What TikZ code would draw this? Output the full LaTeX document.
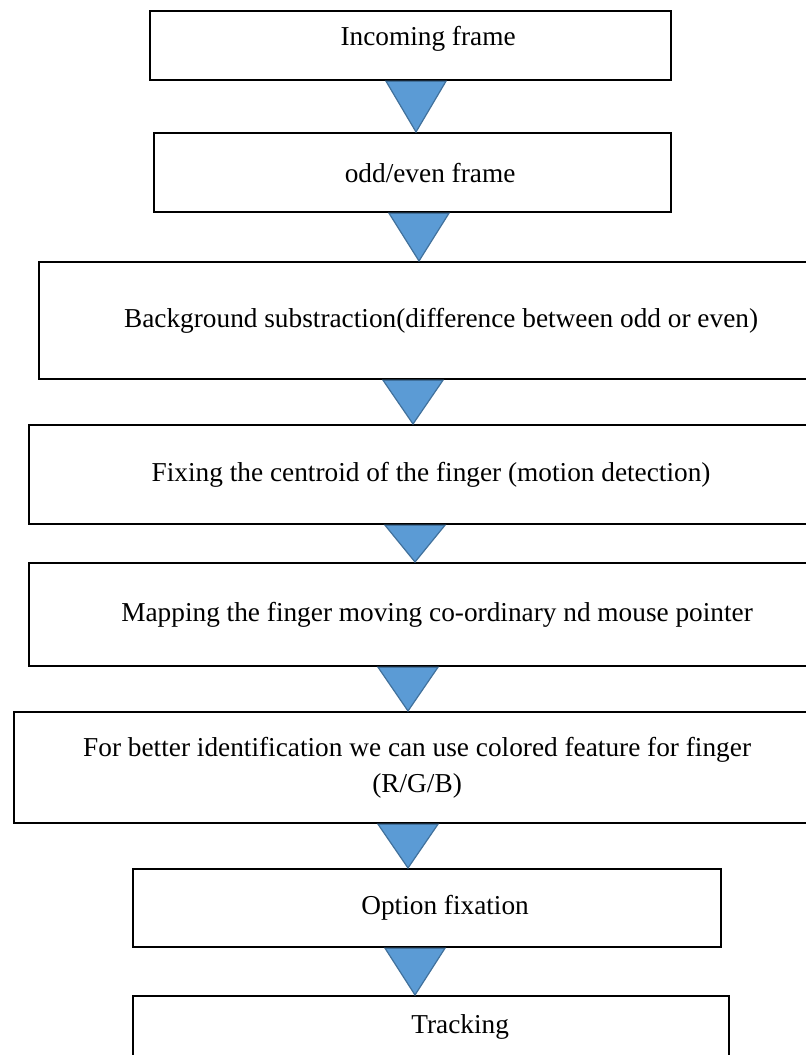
\documentclass[tikz,border=0pt]{standalone}
\usepackage{fontspec}
\setmainfont{Liberation Serif}
\usepackage{xcolor}
\usepackage{tikz}
\usetikzlibrary{calc}
\definecolor{triblue}{HTML}{5B9BD5}
\definecolor{triedge}{HTML}{41719C}

\begin{document}
\begin{tikzpicture}[
    x=0.5pt, y=-0.5pt,
    stepbox/.style={draw, line width=1.1pt, anchor=north west, inner sep=0pt,
                font=\fontsize{13.65}{18}\selectfont},
    tri/.style={fill=triblue, draw=triedge, line width=0.6pt},
    tshift/.style={execute at begin node={\hspace*{#1}}},
]
\useasboundingbox (0,0) rectangle (805,1055);

% Steps
\node[stepbox, minimum width=260.5pt, minimum height=34.5pt, tshift=17.5pt,
      text height=9pt, text depth=9pt] (frame) at (149,10) {Incoming frame};
\node[stepbox, minimum width=258.5pt, minimum height=39.5pt, tshift=17.5pt] (parity) at (153,132) {odd/even frame};
\node[stepbox, minimum width=402pt, minimum height=58.5pt] (subtract) at (38,261)
    {Background substraction(difference between odd or even)};
\node[stepbox, minimum width=402pt, minimum height=49.5pt] (centroid) at (28,424)
    {Fixing the centroid of the finger (motion detection)};
\node[stepbox, minimum width=408pt, minimum height=51.5pt] (mapping) at (28,562)
    {Mapping the finger moving co-ordinary nd mouse pointer};
\node[stepbox, minimum width=403pt, minimum height=55.5pt, align=center] (colour) at (13,711)
    {For better identification we can use colored feature for finger\\(R/G/B)};
\node[stepbox, minimum width=294pt, minimum height=39pt, tshift=18pt] (option) at (132,868) {Option fixation};
\node[stepbox, minimum width=298pt, minimum height=31pt, tshift=29pt] (tracking) at (132,995) {Tracking};

% Triangle connectors
\coordinate (t1) at (416,0);
\coordinate (t2) at (419,0);
\coordinate (t3) at (413,0);
\coordinate (t4) at (415,0);
\coordinate (t5) at (408,0);
\coordinate (t6) at (408,0);
\coordinate (t7) at (415,0);
\foreach \a/\b/\c in {frame/parity/t1, parity/subtract/t2, subtract/centroid/t3,
                      centroid/mapping/t4, mapping/colour/t5, colour/option/t6,
                      option/tracking/t7}
  \draw[tri] ($(\a.south -| \c)+(-30,0)$) -- ($(\a.south -| \c)+(30,0)$)
             -- (\b.north -| \c) -- cycle;
\end{tikzpicture}
\end{document}
